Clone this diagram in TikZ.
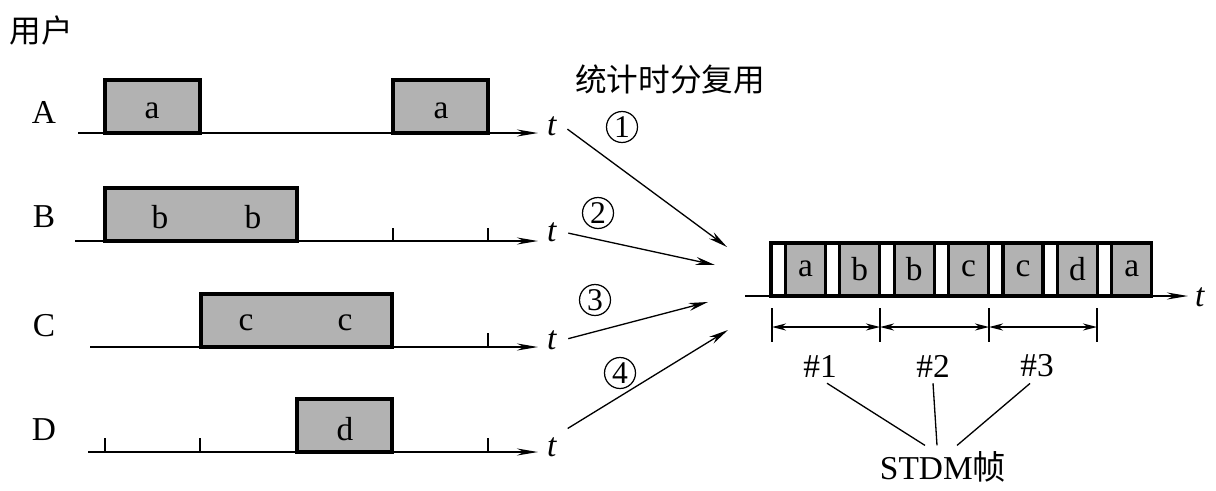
\documentclass[tikz,border=0pt]{standalone}
\usepackage{fontspec}
\setmainfont{Liberation Serif}
\newfontfamily\cjk{Noto Sans CJK SC}
\usetikzlibrary{arrows.meta}
\tikzset{
  >={Stealth[length=12pt,width=4pt]},
  every node/.style={font=\fontsize{19}{22}\selectfont},
  cn/.style={font=\fontsize{18}{21}\selectfont\cjk},
  pulse/.style={line width=1.8pt,fill=gray!60},
  gap/.style={line width=1.8pt,fill=white},
  axis/.style={line width=0.9pt,->},
  tick/.style={line width=0.9pt},
  link/.style={line width=0.75pt,->,>={Stealth[length=11pt,width=4.5pt]},shorten <=3pt},
  span/.style={line width=0.9pt,<->,>={Stealth[length=8pt,width=4pt]}},
  lead/.style={line width=0.75pt},
  num/.style={circle,draw,line width=0.7pt,minimum size=0.62cm,inner sep=0pt,
    font=\fontsize{18}{21}\selectfont},
}

\begin{document}
\begin{tikzpicture}[x=0.02cm,y=-0.02cm]
  \useasboundingbox (0,0) rectangle (1216,490);

  \node[cn] (user) at (41,30) {用户};
  \node[cn] (stdm) at (670,79) {统计时分复用};

  % user A
  \node (A) at (44,112) {A};
  \draw[axis] (78,133) -- (538,133);
  \draw[pulse] (105,80) rectangle (200,133);
  \draw[pulse] (393,80) rectangle (488,133);
  \node (a1) at (152,111) {a};
  \node (a2) at (441,111) {a};
  \node (tA) at (552,126) {\textit{t}};

  % user B
  \node (B) at (44,217) {B};
  \draw[axis] (75,241) -- (538,241);
  \draw[pulse] (105,188) rectangle (297,241);
  \draw[tick] (393,228) -- (393,241) (488,228) -- (488,241);
  \node (b1) at (160,217) {b};
  \node (b2) at (253,217) {b};
  \node (tB) at (552,232) {\textit{t}};

  % user C
  \node (C) at (44,326) {C};
  \draw[axis] (90,347) -- (538,347);
  \draw[pulse] (201,294) rectangle (392,347);
  \draw[tick] (488,333) -- (488,347);
  \node (c1) at (246,323) {c};
  \node (c2) at (345,323) {c};
  \node (tC) at (552,340) {\textit{t}};

  % user D
  \node (D) at (44,430) {D};
  \draw[axis] (88,452) -- (538,452);
  \draw[pulse] (297,399) rectangle (392,452);
  \draw[tick] (105,438) -- (105,452) (200,438) -- (200,452) (488,438) -- (488,452);
  \node (d1) at (345,429) {d};
  \node (tD) at (552,447) {\textit{t}};

  % multiplexing
  \coordinate (m1) at (727,247);
  \coordinate (m2) at (715,265);
  \coordinate (m3) at (708,302);
  \coordinate (m4) at (728,330);
  \draw[link] (tA.east) -- (m1);
  \draw[link] (tB.east) -- (m2);
  \draw[link] (tC.east) -- (m3);
  \draw[link] (tD.north east) -- (m4);
  \node[num] (k1) at (622,127) {1};
  \node[num] (k2) at (598,213) {2};
  \node[num] (k3) at (595,300) {3};
  \node[num] (k4) at (620,373) {4};

  % STDM frames
  \draw[axis] (745,296) -- (1188,296);
  \node (tF) at (1200,297) {\textit{t}};
  \foreach \l [count=\i from 0] in {a,b,b,c,c,d,a}{
    \pgfmathsetmacro\x{771+54.4*\i}
    \draw[gap] (\x,243) rectangle ++(14.4,53);
    \draw[pulse] (\x+14.4,243) rectangle ++(40,53);
    \node (f\i) at (\x+34.4,269) {\l};
  }
  \foreach \x [count=\i] in {772,880,989,1097}{
    \draw[tick] (\x,308) -- (\x,342);
    \coordinate (p\i) at (\x,327);
  }
  \draw[span] (p1) -- (p2);
  \draw[span] (p2) -- (p3);
  \draw[span] (p3) -- (p4);

  \node (n1) at (820,366) {\#1};
  \node (n2) at (933,366) {\#2};
  \node (n3) at (1037,366) {\#3};
  \node (frame) at (943,467) {STDM{\cjk 帧}};
  \draw[lead] ([xshift=0.14cm]n1.south) -- ([xshift=-0.36cm]frame.north);
  \draw[lead] (n2.south) -- ([xshift=-0.12cm]frame.north);
  \draw[lead] ([xshift=-0.14cm]n3.south) -- ([xshift=0.28cm]frame.north);
\end{tikzpicture}
\end{document}
